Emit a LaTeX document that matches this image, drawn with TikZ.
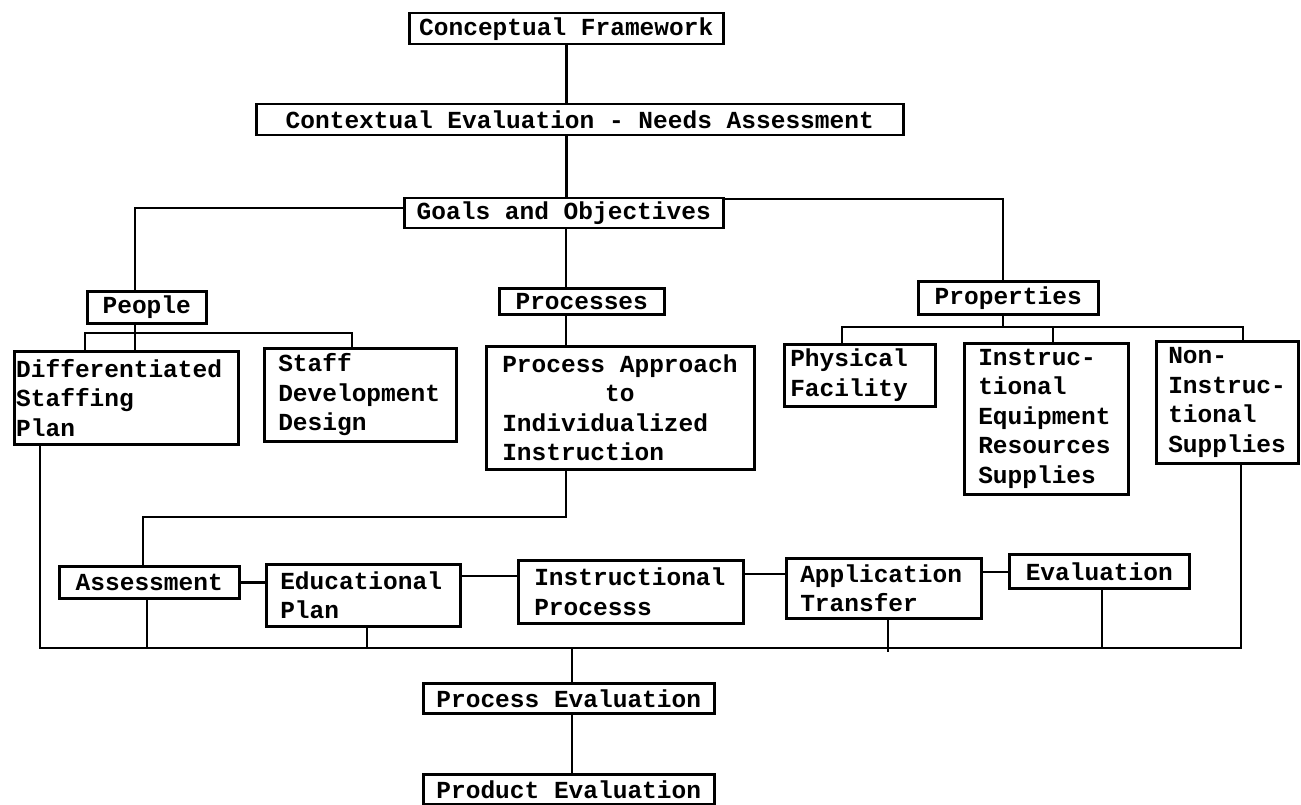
\documentclass[tikz,border=0pt]{standalone}
\usepackage{fontspec}
\newfontfamily\tw{Liberation Mono}
\DeclareRobustCommand\twfnt{\tw\bfseries\fontsize{24.5}{29.5}\selectfont}
\newcommand\ws{\hspace*{0.6em}}
\begin{document}
\begin{tikzpicture}[x=1pt,y=-1pt,
  box/.style={draw, line width=2.5pt, anchor=north west, inner ysep=0pt,
    font=\twfnt},
  ln/.style={line width=2.5pt, line cap=rect}]
\useasboundingbox (0,0) rectangle (1301,805);
% boxes
\node[box, align=center, inner xsep=4pt, text width=306pt, minimum height=31pt] (concept) at (408,12) {Conceptual\ws Framework};
\node[box, align=center, inner xsep=4pt, text width=639pt, minimum height=31pt] (context) at (255,103) {Contextual\ws Evaluation\ws -\ws Needs\ws Assessment};
\node[box, align=center, inner xsep=4pt, text width=311pt, minimum height=30pt] (goals) at (403,197) {Goals\ws and\ws Objectives};
\node[box, align=center, inner xsep=4pt, text width=111pt, minimum height=32pt] (people) at (86,290) {People};
\node[box, align=center, inner xsep=4pt, text width=157pt, minimum height=26pt] (processes) at (498,287) {Processes};
\node[box, align=center, inner xsep=4pt, text width=172pt, minimum height=33pt] (properties) at (917,280) {Properties};
\node[box, align=left, inner xsep=2pt, text width=220pt, minimum height=93pt] (diff) at (13,350) {Differentiated\\Staffing\\Plan};
\node[box, align=left, inner xsep=14pt, text width=164pt, minimum height=93pt] (staff) at (263,347) {Staff\\Development\\Design};
\node[box, align=left, inner xsep=16pt, text width=236pt, minimum height=123pt] (approach) at (485,345) {Process\ws Approach\\\phantom{0000000}to\\Individualized\\Instruction};
\node[box, align=left, inner xsep=6pt, text width=139pt, minimum height=62pt] (physical) at (783,343) {Physical\\Facility};
\node[box, align=left, inner xsep=14pt, text width=136pt, minimum height=151pt] (equip) at (963,342) {Instruc-\\tional\\Equipment\\Resources\\Supplies};
\node[box, align=left, inner xsep=12pt, text width=118pt, minimum height=122pt] (nonins) at (1155,340) {Non-\\Instruc-\\tional\\Supplies};
\node[box, align=center, inner xsep=4pt, text width=172pt, minimum height=32pt] (assess) at (58,565) {Assessment};
\node[box, align=left, inner xsep=14pt, text width=166pt, minimum height=62pt] (eduplan) at (265,563) {Educational\\Plan};
\node[box, align=left, inner xsep=16pt, text width=193pt, minimum height=63pt] (instr) at (517,559) {Instructional\\Processs};
\node[box, align=left, inner xsep=14pt, text width=167pt, minimum height=60pt] (applic) at (785,557) {Application\\Transfer};
\node[box, align=center, inner xsep=4pt, text width=172pt, minimum height=34pt] (evalu) at (1008,553) {Evaluation};
\node[box, align=center, inner xsep=4pt, text width=283pt, minimum height=30pt] (proceval) at (422,682) {Process\ws Evaluation};
\node[box, align=center, inner xsep=4pt, text width=283pt, minimum height=30pt] (prodeval) at (422,773) {Product\ws Evaluation};
% junction coordinates
\coordinate (jpr) at (566,300);
\coordinate (jl) at (135,208);
\coordinate (jr) at (1003,199);
\coordinate (pa) at (85,333);
\coordinate (pb) at (352,333);
\coordinate (qa) at (842,327);
\coordinate (qb) at (1053,327);
\coordinate (qc) at (1243,327);
\coordinate (ja) at (143,517);
\coordinate (h2) at (0,576);
\coordinate (h3) at (0,574);
\coordinate (h4) at (0,572);
\coordinate (bl) at (40,648);
\coordinate (br) at (1241,648);
\coordinate (v1) at (147,648);
\coordinate (v2) at (367,648);
\coordinate (v3) at (888,651);
\coordinate (v4) at (1102,648);
\coordinate (v5) at (572,648);
% connectors
\draw[ln] (concept.south) -- (concept.south |- context.north);
\draw[ln] (concept.south |- context.south) -- (concept.south |- goals.north);
\draw[ln] (goals.south -| jpr) -- (processes.north -| jpr);
\draw[ln] (processes.south -| jpr) -- (approach.north -| jpr);
\draw[ln] (goals.west |- jl) -- (jl) -- (jl |- people.north);
\draw[ln] (goals.east |- jr) -- (jr) -- (jr |- properties.north);
\draw[ln] (jl |- people.south) -- (jl |- diff.north);
\draw[ln] (pa |- diff.north) -- (pa) -- (pb) -- (pb |- staff.north);
\draw[ln] (jr |- properties.south) -- (jr |- qa);
\draw[ln] (qa |- physical.north) -- (qa) -- (qc) -- (qc |- nonins.north);
\draw[ln] (qb) -- (qb |- equip.north);
\draw[ln] (jpr |- approach.south) -- (jpr |- ja) -- (ja) -- (ja |- assess.north);
\draw[ln] (assess.east) -- (assess.east -| eduplan.west);
\draw[ln] (eduplan.east |- h2) -- (instr.west |- h2);
\draw[ln] (instr.east |- h3) -- (applic.west |- h3);
\draw[ln] (applic.east |- h4) -- (evalu.west |- h4);
\draw[ln] (bl |- diff.south) -- (bl) -- (br) -- (br |- nonins.south);
\draw[ln] (v1 |- assess.south) -- (v1);
\draw[ln] (v2 |- eduplan.south) -- (v2);
\draw[ln] (v3 |- applic.south) -- (v3);
\draw[ln] (v4 |- evalu.south) -- (v4);
\draw[ln] (v5) -- (v5 |- proceval.north);
\draw[ln] (v5 |- proceval.south) -- (v5 |- prodeval.north);
\end{tikzpicture}
\end{document}
